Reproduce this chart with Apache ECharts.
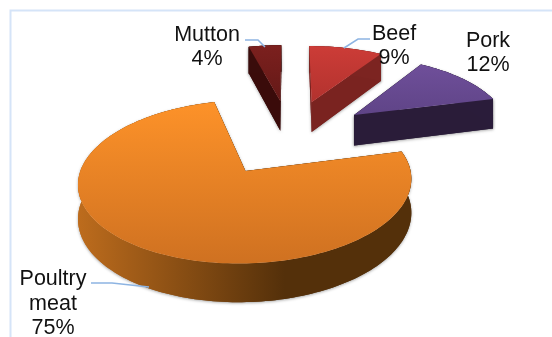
<!DOCTYPE html>
<html>
<head>
<meta charset="utf-8">
<style>html,body{margin:0;padding:0;background:#fff}#chart{width:552px;height:337px}</style>
<script src="https://cdn.jsdelivr.net/npm/echarts@6/dist/echarts.min.js"></script>
</head>
<body>
<div id="chart"></div>
<script>
// Meat consumption shares, clockwise from twelve o'clock
const categories = ['Beef', 'Pork', 'Poultry meat', 'Mutton'];
const shares = [9, 12, 75, 4];
const labelLines = [['Beef'], ['Pork'], ['Poultry', 'meat'], ['Mutton']];

// Slice paint: top gradient, front wall gradient (left to right), radial face
const topColors = [['#cc3c37', '#b2322e'], ['#6f4f9a', '#5f4487'], ['#fd9229', '#cf7121'], ['#7c201e', '#641917']];
const wallColors = [['#7c2421', '#7c2421'], ['#2a1c3a', '#2a1c3a'], ['#bd6c1d', '#54300a'], ['#3a0c0b', '#3a0c0b']];
const faceColors = ['#7a2320', '#2a1c39', '#5a3208', '#3a0b0a'];

// Label anchors and leader polylines
const labelAnchors = [[394, 46], [488, 53], [53, 304], [207, 47]];
const leaderPaths = [
  [[344, 48], [358, 39], [370, 39]],
  null,
  [[91, 283], [112, 283], [149, 287]],
  [[245, 40], [258, 40], [265, 47]]
];

// Perspective camera looking down on the pie plane
const cam = { x0: 290, focal: 1232, dist: 7.92, horizon: -428, tilt: 4470, depth: 250 };
const explode = 0.53;

function project(X, Y, drop) {
  const w = cam.dist + Y;
  return [
    cam.x0 + cam.focal * X / w,
    cam.horizon + cam.tilt / w + (drop ? cam.depth / w : 0)
  ];
}

function renderSlice(params, api) {
  const i = params.dataIndex;
  const total = shares.reduce(function (a, b) { return a + b; }, 0);
  const before = shares.slice(0, i).reduce(function (a, b) { return a + b; }, 0);
  const a0 = before / total * Math.PI * 2;
  const a1 = (before + api.value(1)) / total * Math.PI * 2;
  const mid = (a0 + a1) / 2;
  const ox = explode * Math.sin(mid);
  const oy = explode * Math.cos(mid);

  const steps = Math.max(6, Math.round((a1 - a0) * 40));
  const rim = [], rimLow = [];
  for (let k = 0; k <= steps; k++) {
    const a = a0 + (a1 - a0) * k / steps;
    rim.push(project(ox + Math.sin(a), oy + Math.cos(a), false));
    rimLow.push(project(ox + Math.sin(a), oy + Math.cos(a), true));
  }
  const apex = project(ox, oy, false);
  const apexLow = project(ox, oy, true);

  const xs = rim.map(function (p) { return p[0]; });
  const minX = Math.min.apply(null, xs), maxX = Math.max.apply(null, xs);
  const ys = rim.concat([apex]).map(function (p) { return p[1]; });
  const minY = Math.min.apply(null, ys), maxY = Math.max.apply(null, ys);

  const wallFill = {
    type: 'linear', x: minX, y: 0, x2: minX + (maxX - minX) * 0.62, y2: 0, global: true,
    colorStops: [{ offset: 0, color: wallColors[i][0] }, { offset: 1, color: wallColors[i][1] }]
  };
  const topFill = {
    type: 'linear', x: 0, y: minY, x2: 0, y2: maxY, global: true,
    colorStops: [{ offset: 0, color: topColors[i][0] }, { offset: 1, color: topColors[i][1] }]
  };

  const solids = [
    [[apex, rim[0], rimLow[0], apexLow], faceColors[i]],
    [[apex, rim[steps], rimLow[steps], apexLow], faceColors[i]],
    [rim.concat(rimLow.slice().reverse()), wallFill]
  ];
  // Soft contact shadow first, then the clean walls over it so no seam shows
  const shadowed = solids.map(function (s) {
    return {
      type: 'polygon', shape: { points: s[0] },
      style: { fill: s[1], shadowBlur: 3, shadowColor: 'rgba(0,0,0,0.35)', shadowOffsetY: 1 }
    };
  });
  const clean = solids.map(function (s) {
    return { type: 'polygon', shape: { points: s[0] }, style: { fill: s[1] } };
  });
  return {
    type: 'group',
    children: shadowed.concat(clean, [
      { type: 'polygon', shape: { points: [apex].concat(rim) }, style: { fill: topFill } }
    ])
  };
}

const chart = echarts.init(document.getElementById('chart'), null, { renderer: 'canvas' });

const textStyle = { fontFamily: '"Liberation Sans", Arial, sans-serif', fontSize: 21.5, lineHeight: 24.5, fill: '#111', align: 'center', verticalAlign: 'middle' };

chart.setOption({
  animation: false,
  backgroundColor: '#ffffff',
  graphic: {
    elements: [
      { type: 'polyline', silent: true, shape: { points: [[10.5, 337], [10.5, 10.5], [552, 10.5]] }, style: { fill: null, stroke: '#d5e4f8', lineWidth: 2 } }
    ].concat(
      leaderPaths.filter(Boolean).map(function (pts) {
        return { type: 'polyline', z: 10, silent: true, shape: { points: pts }, style: { fill: null, stroke: '#8db4e2', lineWidth: 1.5 } };
      }),
      categories.map(function (name, i) {
        return {
          type: 'text', z: 11, silent: true, x: labelAnchors[i][0], y: labelAnchors[i][1],
          style: Object.assign({ text: labelLines[i].concat(shares[i] + '%').join('\n') }, textStyle)
        };
      })
    )
  },
  series: [{
    type: 'custom',
    coordinateSystem: 'none',
    renderItem: renderSlice,
    data: categories.map(function (name, i) { return { name: name, value: [i, shares[i]] }; })
  }]
});
</script>
</body>
</html>
